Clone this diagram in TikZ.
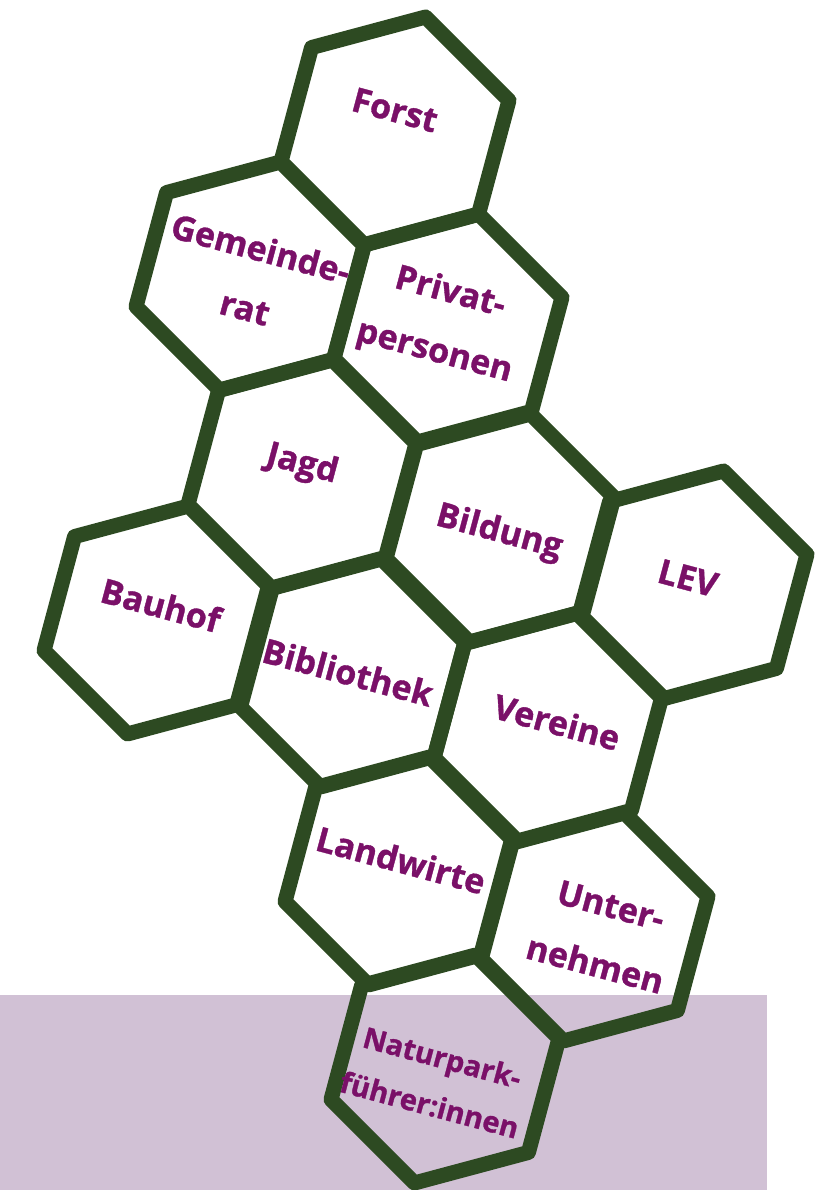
\documentclass[tikz,border=0pt]{standalone}
\usepackage{fontspec}
\setmainfont{Open Sans}[BoldFeatures={FakeBold=1}]
\usetikzlibrary{shapes.geometric}
\definecolor{hexgreen}{HTML}{2D4A22}
\definecolor{labelpurple}{HTML}{7A1068}
\definecolor{mauve}{HTML}{D1C1D5}
\tikzset{
  hexcell/.style={draw=hexgreen, line width=15pt, line join=round,
    regular polygon, regular polygon sides=6, shape border rotate=15,
    minimum size=236pt, inner sep=0pt, outer sep=0pt},
  hexlabel/.style={text=labelpurple, align=center, rotate=-15, inner sep=0pt,
    font=\bfseries\fontsize{34}{61}\selectfont},
  smalllabel/.style={hexlabel, font=\bfseries\fontsize{29}{49}\selectfont}
}
\begin{document}
\begin{tikzpicture}[x=1pt, y=1pt]
  \useasboundingbox (0,0) rectangle (830,1190);
  \fill[white] (0,0) rectangle (830,1190);
  % mauve band along the bottom
  \fill[mauve] (0,0) rectangle (767,195);

  % honeycomb cells
  \node[hexcell] (forst)   at (395,1059) {};
  \node[hexcell] (gemrat)  at (250,914)  {};
  \node[hexcell] (privat)  at (448,862)  {};
  \node[hexcell] (jagd)    at (302,716)  {};
  \node[hexcell] (bildung) at (500,662)  {};
  \node[hexcell] (lev)     at (693,605)  {};
  \node[hexcell] (bauhof)  at (158,570)  {};
  \node[hexcell] (biblio)  at (351,517)  {};
  \node[hexcell] (vereine) at (548,463)  {};
  \node[hexcell] (landw)   at (399,319)  {};
  \node[hexcell] (untern)  at (594,263)  {};
  \node[hexcell] (natur)   at (445,121)  {};

  % cell labels
  \node[hexlabel] (forst-t)   at (395,1080) {Forst};
  \node[hexlabel] (gemrat-t)  at (253,912)  {Gemeinde-\\rat};
  \node[hexlabel] (privat-t)  at (442,867)  {Privat-\\personen};
  \node[hexlabel] (jagd-t)    at (302,725)  {Jagd};
  \node[hexlabel] (bildung-t) at (499,657)  {Bildung};
  \node[hexlabel] (lev-t)     at (688,612)  {LEV};
  \node[hexlabel] (bauhof-t)  at (161,585)  {Bauhof};
  \node[hexlabel] (biblio-t)  at (348,518)  {Bibliothek};
  \node[hexlabel] (vereine-t) at (557,468)  {Vereine};
  \node[hexlabel] (landw-t)   at (401,330)  {Landwirte};
  \node[hexlabel] (untern-t)  at (603,255)  {Unter-\\nehmen};
  \node[smalllabel] (natur-t) at (436,109)  {Naturpark-\\führer:innen};
\end{tikzpicture}
\end{document}
